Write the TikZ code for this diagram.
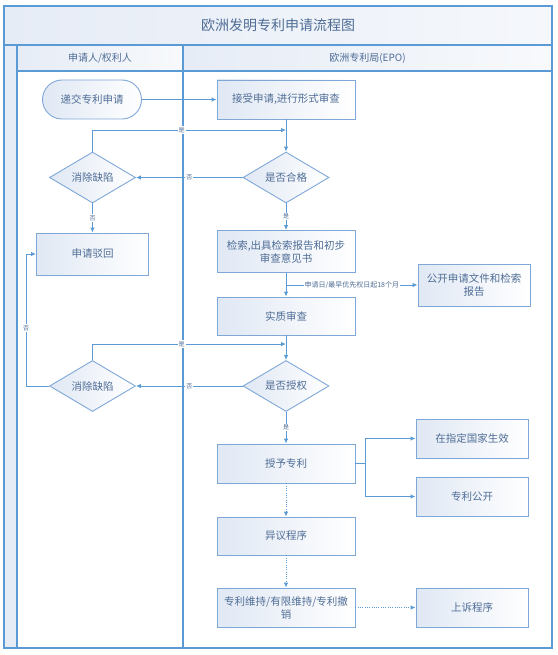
\documentclass[tikz,border=0pt]{standalone}
\usepackage{fontspec}
\setmainfont{Noto Sans CJK SC}
\usetikzlibrary{arrows.meta}
\usetikzlibrary{calc}
\usetikzlibrary{shapes.geometric}
\definecolor{flowline}{HTML}{5B9BD5}
\definecolor{flowedge}{HTML}{7FA7D8}
\definecolor{flowtext}{HTML}{4F6D96}
\definecolor{flowfill}{HTML}{E0E8F4}
\definecolor{bandfill}{HTML}{E6ECF6}
\newcommand*\nodefont{\fontsize{10.5}{13}\selectfont}
\newcommand*\tinyfont{\fontsize{6}{7}\selectfont}

\begin{document}
\begin{tikzpicture}[x=1pt, y=-1pt, >={Latex[length=5pt,width=4.5pt]},
    box/.style={draw=flowedge, line width=0.9pt, rectangle, left color=flowfill, right color=white,
        minimum width=138pt, minimum height=39pt, align=center, text=flowtext, font=\nodefont},
    sidebox/.style={box, minimum width=112pt},
    startbox/.style={box, rounded corners=19.5pt, minimum width=99pt},
    decision/.style={box, diamond, aspect=1.7, inner sep=0pt, minimum width=86pt, minimum height=51pt},
    lbl/.style={font=\tinyfont, fill=white, inner sep=1pt, text=flowtext},
    conn/.style={draw=flowline, line width=0.9pt},
    later/.style={dash pattern=on 1pt off 1.3pt}]

    \useasboundingbox (0,0) rectangle (557,655);

    % Pool and lanes
    \fill[left color=bandfill, right color=bandfill!40] (4,6) rectangle (552,45);
    \fill[bandfill] (4,45) rectangle (17,648);
    \fill[left color=bandfill, right color=bandfill!30] (17,45) rectangle (183,71);
    \fill[left color=bandfill, right color=bandfill!30] (183,45) rectangle (552,71);
    \draw[flowline, line width=1.3pt] (4,6) rectangle (552,648);
    \draw[flowline, line width=1.1pt] (4,45) -- (552,45);
    \draw[flowline, line width=1.1pt] (17,71) -- (552,71);
    \draw[flowline, line width=1.1pt] (17,45) -- (17,648);
    \draw[flowline, line width=1.1pt] (183,45) -- (183,648);
    \node (pool) [text=flowtext, font=\fontsize{14}{16}\selectfont] at (278,25) {欧洲发明专利申请流程图};
    \node (applicant) [text=flowtext, font=\fontsize{10}{12}\selectfont] at (100,58) {申请人/权利人};
    \node (epo) [text=flowtext, font=\fontsize{10}{12}\selectfont] at (367.5,58) {欧洲专利局(EPO)};

    % Define nodes
    \node (submit) [startbox] at (92,99.5) {递交专利申请};
    \node (formal) [box, right of=submit, node distance=194pt] {接受申请,进行形式审查};
    \node (check1) [decision, below of=formal, node distance=78pt] {是否合格};
    \node (fix1) [decision, left of=check1, node distance=193.5pt] {消除缺陷};
    \node (reject) [sidebox, minimum height=42pt, below of=fix1, node distance=76.5pt] {申请驳回};
    \node (search) [box, minimum height=42pt, below of=check1, node distance=74pt] {检索,出具检索报告和初步\\审查意见书};
    \node (publish) [sidebox, minimum height=42pt] at (474,285) {公开申请文件和检索\\报告};
    \node (exam) [box, minimum height=38pt, below of=search, node distance=64.5pt] {实质审查};
    \node (check2) [decision, below of=exam, node distance=70pt] {是否授权};
    \node (fix2) [decision, left of=check2, node distance=193.5pt] {消除缺陷};
    \node (grant) [box, below of=check2, node distance=77.5pt] {授予专利};
    \node (valid) [sidebox] at (472,438.5) {在指定国家生效};
    \node (open) [sidebox, below of=valid, node distance=58pt] {专利公开};
    \node (oppose) [box, minimum height=38pt, below of=grant, node distance=72.5pt] {异议程序};
    \node (maintain) [box, below of=oppose, node distance=71.5pt] {专利维持/有限维持/专利撤\\销};
    \node (appeal) [sidebox, right of=maintain, node distance=186pt] {上诉程序};

    \coordinate (back1) at ($(formal.south)!0.33!(check1.north)$);
    \coordinate (back2) at ($(exam.south)!0.35!(check2.north)$);

    % Draw arrows
    \draw[conn, ->] (submit) -- (formal);
    \draw[conn, ->] (formal) -- (check1);
    \draw[conn, ->] (check1.west) -- node[lbl]{否} (fix1.east);
    \draw[conn, ->] (fix1.north) |- node[lbl, pos=0.73]{是} (back1);
    \draw[conn, ->] (fix1.south) -- node[lbl]{否} (reject.north);
    \draw[conn, ->] (check1.south) -- node[lbl]{是} (search.north);
    \draw[conn, ->] (search) -- (exam);
    \draw[conn, ->] (search.south |- publish.west) -- node[lbl, font=\fontsize{7}{8}\selectfont]{申请日/最早优先权日起18个月} (publish.west);
    \draw[conn, ->] (exam) -- (check2);
    \draw[conn, ->] (check2.west) -- node[lbl]{否} (fix2.east);
    \draw[conn, ->] (fix2.north) |- node[lbl, pos=0.73]{是} (back2);
    \draw[conn, ->] (fix2.west) -- ++(-23,0) |- node[lbl, pos=0.22]{否} (reject.west);
    \draw[conn, ->] (check2.south) -- node[lbl]{是} (grant.north);
    \draw[conn, ->] (grant.east) -- ++(10,0) |- (valid.west);
    \draw[conn, ->] (grant.east) -- ++(10,0) |- (open.west);
    \draw[conn, ->, later] (grant) -- (oppose);
    \draw[conn, ->, later] (oppose) -- (maintain);
    \draw[conn, ->, later] (maintain) -- (appeal);

\end{tikzpicture}
\end{document}
